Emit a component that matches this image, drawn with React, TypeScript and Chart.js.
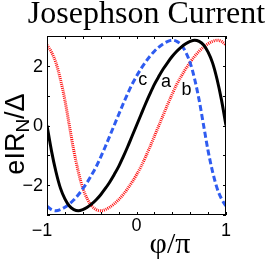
import React, { useEffect, useRef } from "react";
import { Chart, registerables } from "chart.js";
Chart.register(...registerables);

const phi = [
  -1, -0.95, -0.9, -0.85, -0.8, -0.75, -0.7, -0.65, -0.6, -0.55, -0.5,
  -0.45, -0.4, -0.35, -0.3, -0.25, -0.2, -0.15, -0.1, -0.05, 0,
  0.05, 0.1, 0.15, 0.2, 0.25, 0.3, 0.35, 0.4, 0.45, 0.5,
  0.55, 0.6, 0.65, 0.7, 0.75, 0.8, 0.85, 0.9, 0.95, 1,
];

// curve "a" (black, solid)
const curveA = [
  0, -0.85, -1.55, -2.1, -2.46, -2.7, -2.82, -2.86, -2.82, -2.74, -2.63,
  -2.49, -2.32, -2.12, -1.9, -1.65, -1.38, -1.06, -0.72, -0.36, 0,
  0.36, 0.72, 1.06, 1.38, 1.65, 1.9, 2.12, 2.32, 2.49, 2.63,
  2.74, 2.82, 2.86, 2.82, 2.7, 2.46, 2.1, 1.55, 0.85, 0,
];

// curve "b" (red, dotted)
const curveB = [
  2.7, 2.46, 2.1, 1.55, 0.85, 0, -0.85, -1.55, -2.1, -2.46, -2.7,
  -2.82, -2.86, -2.82, -2.74, -2.63, -2.49, -2.32, -2.12, -1.9, -1.65,
  -1.38, -1.06, -0.72, -0.36, 0, 0.36, 0.72, 1.06, 1.38, 1.65,
  1.9, 2.12, 2.32, 2.49, 2.63, 2.74, 2.82, 2.86, 2.82, 2.7,
];

// curve "c" (blue, dashed)
const curveC = [
  -2.7, -2.82, -2.86, -2.82, -2.74, -2.63, -2.49, -2.32, -2.12, -1.9, -1.65,
  -1.38, -1.06, -0.72, -0.36, 0, 0.36, 0.72, 1.06, 1.38, 1.65,
  1.9, 2.12, 2.32, 2.49, 2.63, 2.74, 2.82, 2.86, 2.82, 2.7,
  2.46, 2.1, 1.55, 0.85, 0, -0.85, -1.55, -2.1, -2.46, -2.7,
];

const xTicks = [-1, -0.8, -0.6, -0.4, -0.2, 0, 0.2, 0.4, 0.6, 0.8, 1];
const xLabelValues = [-1, 0, 1];
const xLabelTexts = ["\u22121", "0", "1"];
const yTicks = [-3, -2, -1, 0, 1, 2, 3];
const yLabelValues = [-2, 0, 2];
const yLabelTexts = ["\u22122", "0", "2"];

const letterTexts = ["c", "a", "b"];
const letterX = [0.07, 0.33, 0.56];
const letterY = [1.53, 1.46, 1.19];

const titleText = "Josephson Current";
const xAxisTitle = "\u03c6/\u03c0";

const SANS = "'Liberation Sans', Arial, sans-serif";
const SERIF = "'Liberation Serif', 'Times New Roman', serif";

export default function App() {
  const ref = useRef<HTMLCanvasElement>(null);

  useEffect(() => {
    const canvas = ref.current!;
    const pts = (ys: number[]) => phi.map((x, i) => ({ x, y: ys[i] }));

    const decor = {
      id: "decor",
      afterDatasetsDraw(chart: any) {
        const ctx = chart.ctx as CanvasRenderingContext2D;
        const a = chart.chartArea;
        const xs = chart.scales.x;
        const ys = chart.scales.y;
        ctx.save();
        // letters
        ctx.fillStyle = "#000";
        ctx.font = `18px ${SANS}`;
        ctx.textAlign = "center";
        ctx.textBaseline = "middle";
        letterTexts.forEach((t, i) => {
          ctx.fillText(t, xs.getPixelForValue(letterX[i]), ys.getPixelForValue(letterY[i]));
        });
        // box
        ctx.strokeStyle = "#000";
        ctx.lineWidth = 1;
        ctx.strokeRect(a.left + 0.5, a.top + 0.5, a.right - a.left - 1, a.bottom - a.top - 1);
        // ticks
        const tl = 3;
        ctx.beginPath();
        xTicks.forEach((v) => {
          const px = Math.round(xs.getPixelForValue(v)) + 0.5;
          ctx.moveTo(px, a.bottom);
          ctx.lineTo(px, a.bottom - tl);
          ctx.moveTo(px, a.top);
          ctx.lineTo(px, a.top + tl);
        });
        yTicks.forEach((v) => {
          const py = Math.round(ys.getPixelForValue(v)) + 0.5;
          ctx.moveTo(a.left, py);
          ctx.lineTo(a.left + tl, py);
          ctx.moveTo(a.right, py);
          ctx.lineTo(a.right - tl, py);
        });
        ctx.stroke();
        // tick labels
        ctx.font = `18px ${SANS}`;
        ctx.textAlign = "right";
        ctx.textBaseline = "middle";
        yLabelValues.forEach((v, i) => {
          ctx.fillText(yLabelTexts[i], a.left - 4, ys.getPixelForValue(v) + 1);
        });
        ctx.textAlign = "center";
        ctx.textBaseline = "top";
        xLabelValues.forEach((v, i) => {
          let px = xs.getPixelForValue(v);
          let py = a.bottom + 7;
          if (v === -1) px -= 5;
          if (v === 0) py -= 5;
          ctx.fillText(xLabelTexts[i], px, py);
        });
        // x axis title
        ctx.font = `30px ${SERIF}`;
        ctx.textBaseline = "alphabetic";
        ctx.fillText(xAxisTitle, 170, 253);
        // title
        ctx.font = `32px ${SERIF}`;
        ctx.fillText(titleText, 146.5, 23);
        // y axis title: eIR_N/Δ rotated
        ctx.translate(24, 134);
        ctx.rotate(-Math.PI / 2);
        const big = `27px ${SANS}`;
        const small = `19px ${SANS}`;
        ctx.font = big;
        const w1 = ctx.measureText("eIR").width;
        const w3 = ctx.measureText("/\u0394").width;
        ctx.font = small;
        const w2 = ctx.measureText("N").width;
        const total = w1 + w2 + w3;
        let x0 = -total / 2;
        ctx.textAlign = "left";
        ctx.font = big;
        ctx.fillText("eIR", x0, 0);
        x0 += w1;
        ctx.font = small;
        ctx.fillText("N", x0, 5);
        x0 += w2;
        ctx.font = big;
        ctx.fillText("/\u0394", x0, 0);
        ctx.restore();
      },
    };

    const common = {
      borderWidth: 3,
      pointRadius: 0,
      fill: false,
      cubicInterpolationMode: "monotone" as const,
    };

    const chart = new Chart(canvas, {
      type: "line",
      data: {
        datasets: [
          { ...common, label: "a", data: pts(curveA), borderColor: "#000000", order: 0 },
          { ...common, label: "c", data: pts(curveC), borderColor: "#2f5cf0", borderDash: [6, 3], order: 1 },
          { ...common, label: "b", data: pts(curveB), borderColor: "#ff1010", borderDash: [1, 1], order: 2 },
        ],
      },
      options: {
        responsive: false,
        animation: false,
        events: [],
        layout: { padding: { left: 47, top: 36, right: 46, bottom: 47 } },
        scales: {
          x: { type: "linear", min: -1, max: 1, display: false },
          y: { type: "linear", min: -3, max: 3, display: false },
        },
        plugins: {
          legend: { display: false },
          tooltip: { enabled: false },
          title: { display: false },
        },
      },
      plugins: [decor],
    });
    return () => chart.destroy();
  }, []);

  return (
    <div style={{ position: "fixed", left: 0, top: 0, width: 272, height: 262, background: "#fff" }}>
      <canvas ref={ref} width={272} height={262} style={{ display: "block" }} />
    </div>
  );
}
